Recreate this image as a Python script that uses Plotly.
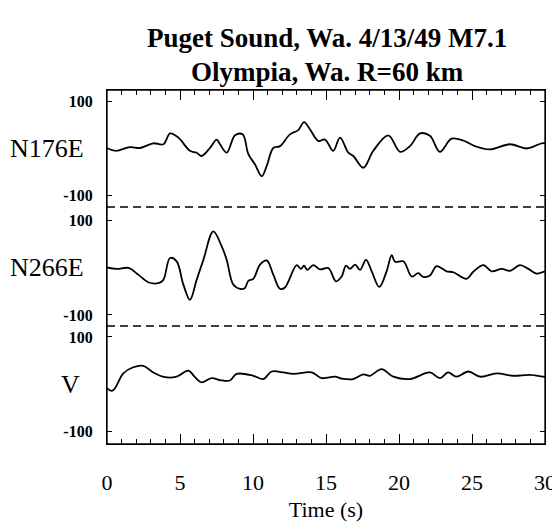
import plotly.graph_objects as go

# ---- data ----
t_n176e = [0, 0.62, 1.58, 2.26, 3.17, 3.86, 4.32, 4.89, 5.68, 6.14, 6.48, 7.05, 7.51, 7.74, 8.2, 8.77, 9.29,
           9.68, 10.14, 10.6, 10.94, 11.39, 11.85, 12.53, 13.1, 13.5, 13.9, 14.47, 14.93, 15.5, 15.96, 16.53,
           16.87, 17.56, 18.24, 19.27, 20.07, 20.75, 21.44, 22.12, 22.8, 23.6, 24.4, 25.2, 26.23, 27.6, 28.75,
           29.77, 30]
v_n176e = [0, -6, 2, 0, 10, 8, 31, 22, -6, -10, -17, 0, 18, 8, -10, 27, 29,
           -13, -35, -60, -38, 0, 4, 29, 38, 55, 40, 15, 18, -6, 22, -10,
           -17, -42, -6, 27, -8, 4, 31, 26, -8, 20, 16, 4, -3, 8, -1,
           10, 10]

t_n266e = [0, 0.66, 1.46, 2.14, 2.83, 3.52, 3.86, 4.32, 4.77, 5.23, 5.68, 6.14, 6.6, 7.28, 7.85, 8.2, 8.65,
           9.11, 9.45, 9.68, 10.02, 10.48, 10.94, 11.39, 11.85, 12.19, 12.99, 13.29, 13.49, 13.72, 14.13,
           14.59, 15.16, 15.68, 16.07, 16.37, 16.64, 16.99, 17.33, 17.74, 18.13, 18.65, 19.15, 19.5, 19.73,
           20.3, 20.87, 21.32, 21.67, 22.12, 22.58, 23.26, 23.72, 24.63, 25.09, 25.78, 26.35, 27.03, 27.6,
           28.29, 28.86, 29.43, 29.9, 30]
v_n266e = [0, -3, -1, -15, -31, -33, -26, 20, 13, -36, -68, -26, 16, 76, 45, 16, -36,
           -45, -43, -28, -24, 6, 15, -15, -45, -42, 5, -3, 4, -5, 5,
           -4, -1, -29, -19, 4, -3, 6, -5, 16, -8, -41, -8, 26, 12,
           13, -19, -12, -20, -17, 3, -8, -10, -24, -9, 5, -8, -3, -7,
           5, -3, -13, -9, -9]

t_v = [0, 0.32, 0.55, 1.12, 1.8, 2.49, 3.17, 3.97, 4.77, 5.57, 6.03, 6.48, 7.16, 7.74, 8.42, 8.88, 10.02,
       10.71, 11.28, 12.08, 12.76, 14.02, 14.7, 15.62, 16.07, 16.87, 17.56, 18.01, 18.81, 19.61, 20.75,
       22.12, 22.8, 23.36, 23.93, 24.75, 25.55, 26.69, 27.83, 28.97, 29.9, 30]
v_v = [-8, -14, -8, 23, 36, 39, 25, 15, 16, 29, 15, 4, 13, 9, 8, 22, 18,
       11, 27, 25, 22, 25, 13, 16, 12, 11, 21, 18, 32, 16, 11,
       25, 13, 25, 16, 27, 16, 23, 18, 20, 16, 16]

panel_names = ["N176E", "N266E", "V"]
y_tick_vals = [-100, 100]
y_tick_text = ["<b>-100</b>", "<b>100</b>"]
x_tick_vals = [0, 5, 10, 15, 20, 25, 30]
title_lines = ["Puget Sound, Wa. 4/13/49 M7.1", "Olympia, Wa. R=60 km"]

SERIF = "Liberation Serif"

fig = go.Figure()
line = dict(color="black", width=1.8, shape="spline", smoothing=1.0)
fig.add_trace(go.Scatter(x=t_n176e, y=v_n176e, xaxis="x2", yaxis="y", mode="lines", line=line, showlegend=False))
fig.add_trace(go.Scatter(x=t_n266e, y=v_n266e, xaxis="x", yaxis="y2", mode="lines", line=line, showlegend=False))
fig.add_trace(go.Scatter(x=t_v, y=v_v, xaxis="x", yaxis="y3", mode="lines", line=line, showlegend=False))

# page offset of 8px (body margin) -> figure coordinates = screen - 8
OFF = 8
W, H = 552, 520
L, T = 107 - OFF, 90 - OFF
R = W - (545 - OFF)
B = H - (444 - OFF)
ph = H - T - B
pw = W - L - R
def ypaper(screen_px):
    return (H - B - (screen_px - OFF)) / ph

d1 = ypaper(207)
d2 = ypaper(326)

yax_common = dict(tickvals=y_tick_vals, ticktext=y_tick_text, ticks="inside", ticklen=5, tickwidth=1.2,
                  tickcolor="black", showline=True, linecolor="black", linewidth=1.3, mirror="ticks",
                  showgrid=False, zeroline=False, tickfont=dict(family=SERIF, size=16, color="black"),
                  ticklabelstandoff=10, fixedrange=True, automargin=False)

xax_common = dict(range=[0, 30], showgrid=False, zeroline=False, showline=True, linecolor="black",
                  linewidth=1.3, ticks="inside", tickvals=x_tick_vals, ticklen=10, tickwidth=1.2,
                  tickcolor="black", automargin=False, domain=[0, 1],
                  minor=dict(ticks="inside", dtick=1, ticklen=5, tickwidth=1.1, tickcolor="black", showgrid=False))

fig.update_layout(
    width=W, height=H,
    margin=dict(l=L, r=R, t=T, b=B),
    paper_bgcolor="white", plot_bgcolor="white",
    xaxis=dict(anchor="y3", side="bottom", **xax_common,
               tickfont=dict(family=SERIF, size=22, color="black"), ticklabelstandoff=18,
               title=dict(text="Time (s)", font=dict(family=SERIF, size=22, color="black"), standoff=8)),
    xaxis2=dict(anchor="y", side="top", matches="x", showticklabels=False, **xax_common),
    yaxis=dict(domain=[d1, 1], range=[-125.5, 123.4], **yax_common),
    yaxis2=dict(domain=[d2, d1], range=[-123.2, 127.4], **yax_common),
    yaxis3=dict(domain=[0, d2], range=[-126.1, 123.1], **yax_common),
)

# outer frame
fig.add_shape(type="rect", xref="paper", yref="paper", x0=0, x1=1, y0=0, y1=1,
              line=dict(color="black", width=1.3))

# dashed separators
for yy in (d1, d2):
    fig.add_shape(type="line", xref="paper", yref="paper", x0=0, x1=1, y0=yy, y1=yy,
                  line=dict(color="black", width=1.6, dash="8px,5px"))

# panel labels
for name, yref, xpx, anchor in zip(panel_names, ["y", "y2", "y3"], [8, 8, 82], ["left", "left", "right"]):
    fig.add_annotation(text=name, xref="paper", yref=yref, x=(xpx - OFF - L) / pw, y=0,
                       xanchor=anchor, yanchor="middle", showarrow=False,
                       font=dict(family=SERIF, size=26, color="black"))

# title
for txt, ypx in zip(title_lines, [38, 72]):
    fig.add_annotation(text="<b>" + txt + "</b>", xref="paper", yref="paper", x=(327 - OFF - L) / pw,
                       y=ypaper(ypx), xanchor="center", yanchor="middle", showarrow=False,
                       font=dict(family=SERIF, size=27, color="black"))

fig.write_html("out.html")
